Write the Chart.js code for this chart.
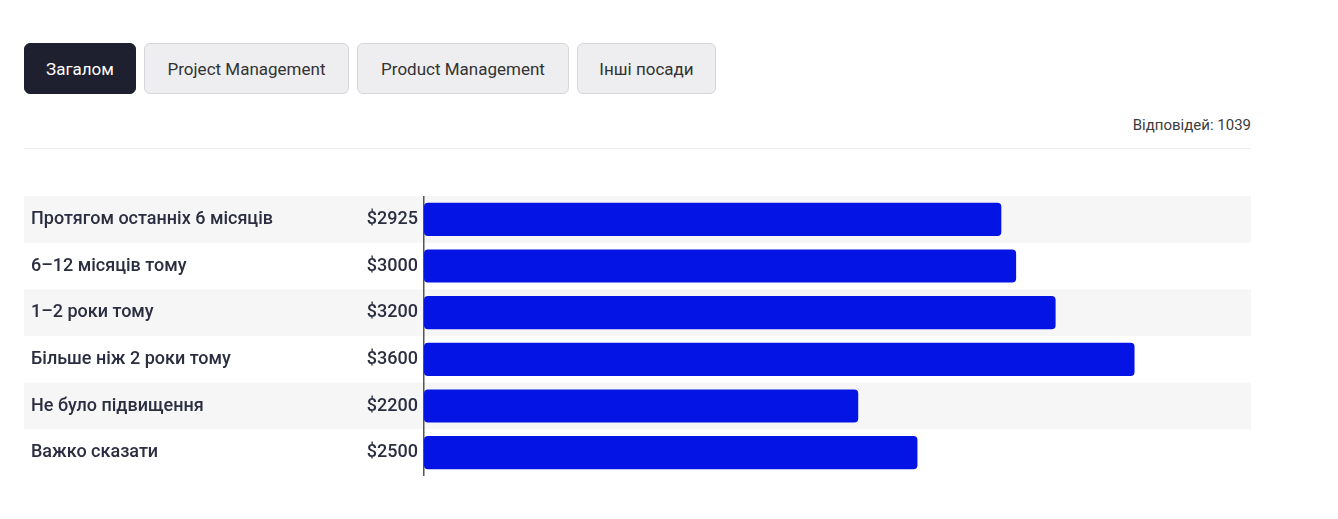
<!DOCTYPE html>
<html lang="uk">
<head>
<meta charset="utf-8">
<script src="https://cdn.jsdelivr.net/npm/chart.js@4"></script>
<style>
  body { margin: 0; background: #fff; font-family: Roboto, "Noto Sans", sans-serif; }
  .tabs { position: absolute; left: 24px; top: 43px; display: flex; gap: 8px; }
  .tab {
    height: 51px; box-sizing: border-box;
    border: 1px solid #d6d6da; border-radius: 6px; background: #eeeef0;
    color: #333; font: 17px Roboto, sans-serif; display: flex; align-items: center; justify-content: center;
  }
  .tab.active { background: #1e2030; border-color: #1e2030; color: #fff; }
  .count { position: absolute; right: 87px; top: 116px; font-size: 15px; color: #3c3c3c; }
  .sep { position: absolute; left: 24px; top: 148px; width: 1227px; height: 1px; background: #ececec; }
  .wrap { position: absolute; left: 24px; top: 196px; width: 1227px; height: 280px; }
</style>
</head>
<body>
<div class="tabs">
  <div class="tab active" style="width:112px">Загалом</div>
  <div class="tab" style="width:205px">Project Management</div>
  <div class="tab" style="width:212px">Product Management</div>
  <div class="tab" style="width:139px">Інші посади</div>
</div>
<div class="count">Відповідей: 1039</div>
<div class="sep"></div>
<div class="wrap"><canvas id="myChart"></canvas></div>
<script>
const categories = [
  "Протягом останніх 6 місяців",
  "6–12 місяців тому",
  "1–2 роки тому",
  "Більше ніж 2 роки тому",
  "Не було підвищення",
  "Важко сказати"
];
const salaries = [2925, 3000, 3200, 3600, 2200, 2500];

// striped rows + category names on the left
const rowsPlugin = {
  id: 'rows',
  beforeDraw(chart) {
    const { ctx, scales: { y }, width } = chart;
    const step = y.height / categories.length;
    ctx.save();
    categories.forEach((c, i) => {
      const mid = y.getPixelForValue(i);
      if (i % 2 === 0) {
        ctx.fillStyle = '#f6f6f6';
        ctx.fillRect(0, mid - step / 2, width, step);
      }
    });
    ctx.restore();
  },
  afterDraw(chart) {
    const { ctx, scales: { y } } = chart;
    ctx.save();
    ctx.font = '500 18px Roboto';
    ctx.fillStyle = '#2b2e40';
    ctx.textBaseline = 'middle';
    categories.forEach((c, i) => {
      ctx.fillText(c, 7, y.getPixelForValue(i));
    });
    ctx.restore();
  }
};

new Chart(document.getElementById('myChart'), {
  type: 'bar',
  data: {
    labels: categories,
    datasets: [{
      data: salaries,
      backgroundColor: '#0414e4',
      borderRadius: 4,
      borderSkipped: false,
      barPercentage: 0.71,
      categoryPercentage: 1
    }]
  },
  options: {
    indexAxis: 'y',
    responsive: true,
    maintainAspectRatio: false,
    animation: false,
    layout: { padding: 0 },
    scales: {
      x: {
        min: 0, max: 4190,
        display: false
      },
      y: {
        afterFit(scale) {
          scale.width = 400;
          scale.paddingTop = 0;
          scale.paddingBottom = 0;
        },
        grid: { display: false, drawTicks: false },
        border: { display: true, color: '#555', width: 1.5 },
        ticks: {
          autoSkip: false,
          padding: 6,
          color: '#2b2e40',
          font: { family: 'Roboto', size: 18, weight: 500 },
          callback: (v, i) => '$' + salaries[i]
        }
      }
    },
    plugins: {
      legend: { display: false },
      tooltip: { enabled: false }
    }
  },
  plugins: [rowsPlugin]
});
</script>
</body>
</html>
